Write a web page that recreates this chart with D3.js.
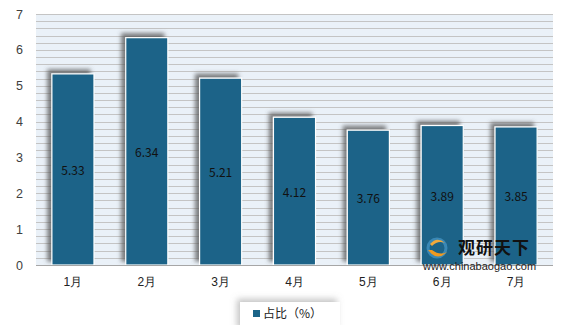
<!DOCTYPE html>
<html><head><meta charset="utf-8">
<script src="https://cdn.jsdelivr.net/npm/d3@7"></script>
<style>body{margin:0;background:#fff;} svg{display:block;font-family:"Microsoft YaHei","Noto Sans CJK SC","DejaVu Sans",sans-serif;}</style>
</head><body>
<svg id="c" width="561" height="325"></svg>
<script>
const categories = ["1月","2月","3月","4月","5月","6月","7月"];
const values = [5.33,6.34,5.21,4.12,3.76,3.89,3.85];
const yTicks = [0,1,2,3,4,5,6,7];
const seriesName = "占比（%）";

const W=561,H=325;
const m={l:36,r:8,t:14,b:60};
const svg=d3.select("#c");
const defs=svg.append("defs");
const f=defs.append("filter").attr("id","sh").attr("x","-30%").attr("y","-30%").attr("width","160%").attr("height","160%");
f.append("feDropShadow").attr("dx",-4).attr("dy",-4).attr("stdDeviation",2.2).attr("flood-color","#555").attr("flood-opacity",0.75);
const f2=defs.append("filter").attr("id","sh2").attr("x","-30%").attr("y","-60%").attr("width","160%").attr("height","220%");
f2.append("feDropShadow").attr("dx",-3).attr("dy",-3).attr("stdDeviation",3).attr("flood-color","#888").attr("flood-opacity",0.5);

const x=d3.scaleBand().domain(categories).range([m.l,553]).paddingInner(0.43).paddingOuter(0.215);
const y=d3.scaleLinear().domain([0,7]).range([265,14]);

svg.append("rect").attr("x",m.l).attr("y",y(7)).attr("width",553-m.l).attr("height",y(0)-y(7)).attr("fill","#eaf1f8");
const minor=d3.range(0,7.001,0.2);
svg.append("g").selectAll("line").data(minor).join("line")
 .attr("x1",m.l).attr("x2",553).attr("y1",d=>Math.round(y(d))+0.5).attr("y2",d=>Math.round(y(d))+0.5)
 .attr("stroke","#c4c4c4").attr("stroke-width",1);

svg.append("g").selectAll("rect").data(values).join("rect")
 .attr("x",(d,i)=>x(categories[i])).attr("y",d=>y(d)).attr("width",x.bandwidth()).attr("height",d=>y(0)-y(d))
 .attr("fill","#1b6488").attr("stroke","#ffffff").attr("stroke-width",1.2).attr("filter","url(#sh)");

svg.append("line").attr("x1",m.l).attr("x2",553).attr("y1",y(0)+0.5).attr("y2",y(0)+0.5).attr("stroke","#a6a6a6");

svg.append("g").selectAll("text").data(values).join("text")
 .attr("x",(d,i)=>x(categories[i])+x.bandwidth()/2).attr("y",d=>(y(d)+y(0))/2)
 .attr("text-anchor","middle").attr("dominant-baseline","central")
 .attr("font-size",12).attr("fill","#111").text(d=>d.toFixed(2));

const ya=d3.axisLeft(y).tickValues(yTicks).tickFormat(d3.format("d")).tickSize(0).tickPadding(13);
const yg=svg.append("g").attr("transform",`translate(${m.l},0)`).call(ya);
yg.select(".domain").remove();
yg.selectAll("text").attr("font-size",12.5).attr("fill","#404040").attr("font-family","Liberation Sans, Arial, sans-serif");

const xa=d3.axisBottom(x).tickSize(0).tickPadding(12);
const xg=svg.append("g").attr("transform",`translate(0,${y(0)})`).call(xa);
xg.select(".domain").remove();
xg.selectAll("text").attr("font-size",12).attr("fill","#222");

const wm=svg.append("g");
wm.append("circle").attr("cx",437).attr("cy",248).attr("r",9).attr("fill","none").attr("stroke","#3a88b5").attr("stroke-width",3);
wm.append("path").attr("d","M428,250 Q437,262 447,252 Q440,256 432,250 Z").attr("fill","#f29a1f");
wm.append("path").attr("d","M430,244 Q437,236 445,243 Q438,240 432,246 Z").attr("fill","#f2a93b");
wm.append("text").attr("x",458).attr("y",254).attr("font-size",17).attr("font-weight","bold").attr("fill","#111").attr("letter-spacing",1).text("观研天下");
wm.append("text").attr("x",423).attr("y",270).attr("font-size",11).attr("fill","#222").attr("font-family","Liberation Sans, Arial, sans-serif").text("www.chinabaogao.com");

const lg=svg.append("g");
lg.append("rect").attr("x",240).attr("y",302).attr("width",100).attr("height",30).attr("fill","#fff").attr("filter","url(#sh2)");
lg.append("rect").attr("x",253).attr("y",310).attr("width",7).attr("height",7).attr("fill","#1b6488");
lg.append("text").attr("x",263).attr("y",318).attr("font-size",12).attr("fill","#222").text(seriesName);
</script>
</body></html>
